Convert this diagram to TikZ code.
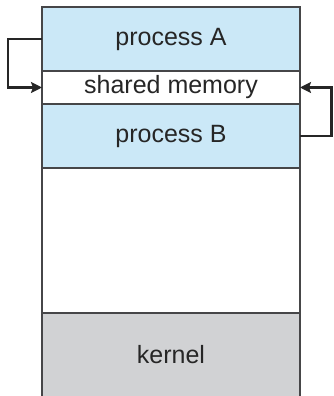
\documentclass[tikz,border=0pt]{standalone}
\usepackage{fontspec}
\setmainfont{Liberation Sans}
\usetikzlibrary{arrows.meta}
\definecolor{procblue}{RGB}{203,232,247}
\definecolor{kerngray}{RGB}{209,210,212}
\definecolor{edge}{RGB}{70,70,72}
\begin{document}
\begin{tikzpicture}[x=1pt,y=1pt,
  region/.style={draw=edge,line width=1.6pt,minimum width=258pt,inner sep=0pt,outer sep=0pt,
    font=\fontsize{25}{29}\selectfont,text=black!85},
  link/.style={draw=black!85,line width=2.8pt,-{Stealth[length=11pt,width=11pt,inset=2pt]}}]
\useasboundingbox (0,0) rectangle (333,396);
\node[region,fill=kerngray,minimum height=86pt] (K) at (171,40) {};
\node[font=\fontsize{25}{29}\selectfont,text=black!85] (KT) at (171,41.5) {kernel};
\node[region,fill=white,minimum height=145pt] (E) at (171,155.5) {};
\node[region,fill=procblue,minimum height=64pt] (B) at (171,260) {process B};
\node[region,fill=white,minimum height=33pt] (S) at (171,308.5) {shared memory};
\node[region,fill=procblue,minimum height=64pt] (A) at (171,357) {process A};
\coordinate (L1) at (8,357);
\coordinate (L2) at (8,308.5);
\coordinate (R1) at (331.5,260);
\coordinate (R2) at (331.5,308.5);
\draw[link] (A.west) -- (L1) -- (L2) -- (S.west);
\draw[link] (B.east) -- (R1) -- (R2) -- (S.east);
\end{tikzpicture}
\end{document}
